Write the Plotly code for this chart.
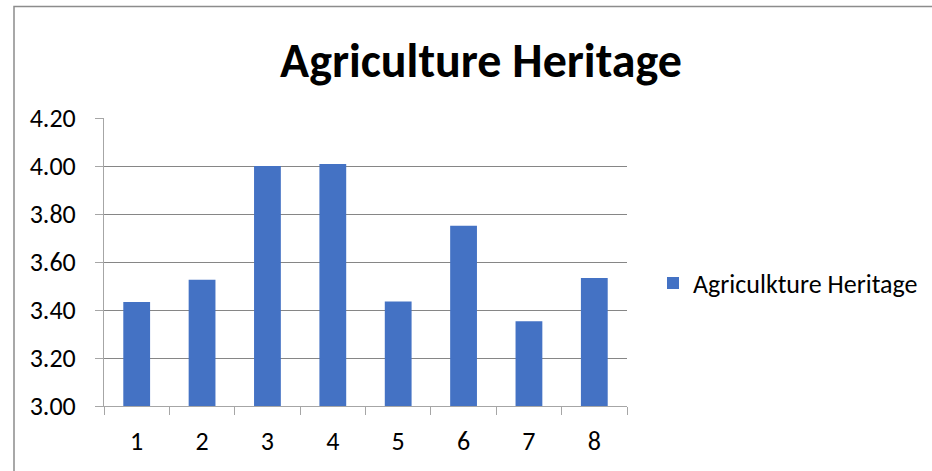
import plotly.graph_objects as go

categories = ["1", "2", "3", "4", "5", "6", "7", "8"]
values = [3.433, 3.526, 4.00, 4.008, 3.435, 3.751, 3.353, 3.533]
y_ticks = [3.0, 3.2, 3.4, 3.6, 3.8, 4.0, 4.2]

W, H = 932, 471
L, T = 104, 118
R, B = W - 627, H - 406
pw, ph = W - L - R, H - T - B

font = "Carlito, Lato, sans-serif"

fig = go.Figure()
fig.add_trace(go.Bar(
    x=categories, y=values, name="Agriculkture Heritage",
    marker=dict(color="#4472C4", line=dict(width=0)),
))


def px_x(v):
    return (v - L) / pw


def px_y(v):
    return (H - B - v) / ph


fig.update_layout(
    width=W, height=H,
    margin=dict(l=L, r=R, t=T, b=B, autoexpand=False),
    paper_bgcolor="white", plot_bgcolor="white",
    font=dict(family=font, size=26, color="#000"),
    title=dict(text="<b>Agriculture Heritage</b>", x=px_x(481), xref="paper",
               xanchor="center", y=1 - 60 / H, yanchor="middle",
               font=dict(size=48, family=font, color="#000")),
    bargap=0.59,
    showlegend=True,
    legend=dict(x=px_x(653), y=px_y(283), xanchor="left", yanchor="middle",
                font=dict(size=26), itemwidth=30, bgcolor="rgba(0,0,0,0)"),
    xaxis=dict(type="category", showline=True, linecolor="#a6a6a6", linewidth=1,
               ticks="outside", tickson="boundaries", ticklen=8, tickcolor="#a6a6a6",
               ticklabelstandoff=12,
               showgrid=False, zeroline=False),
    yaxis=dict(range=[3.0, 4.2], tickvals=y_ticks, tickformat=".2f",
               showline=True, linecolor="#a6a6a6", linewidth=1,
               ticks="outside", ticklen=8, tickcolor="#a6a6a6",
               ticklabelstandoff=14,
               showgrid=True, gridcolor="#868686", gridwidth=1, zeroline=False),
)

# chart frame
fig.add_shape(type="rect", xref="paper", yref="paper",
              x0=px_x(14), x1=px_x(W + 20), y0=px_y(H + 20), y1=px_y(6.5),
              line=dict(color="#8c8c8c", width=1.5), fillcolor="rgba(0,0,0,0)",
              layer="below")

# drop the default 8px page margin so the figure sits at the window origin
fig.write_html("out.html", config={"displayModeBar": False},
               post_script="document.body.style.margin='0';")
